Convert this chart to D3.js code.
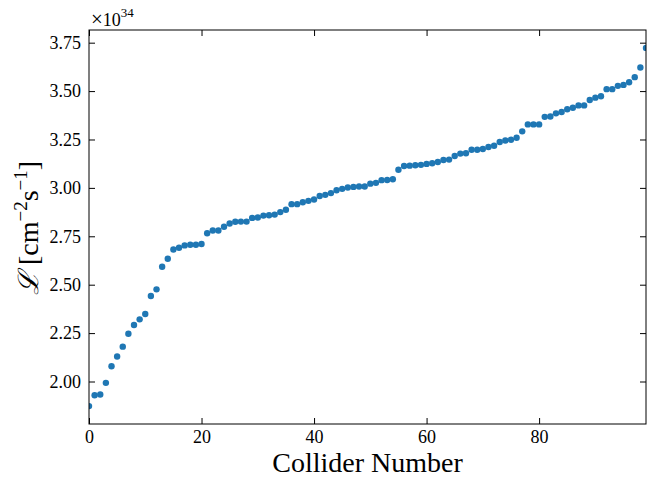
<!DOCTYPE html>
<html>
<head>
<meta charset="utf-8">
<script src="https://cdn.jsdelivr.net/npm/d3@7"></script>
<style>
  html, body { margin: 0; padding: 0; background: #fff; }
  svg { display: block; }
  text { font-family: "Liberation Serif", "DejaVu Serif", serif; fill: #000; }
</style>
</head>
<body>
<svg id="chart" width="647" height="477"></svg>
<script>
// Luminosity per collider (units of 1e34 cm^-2 s^-1), sorted ascending
const colliderIds = d3.range(0, 100);
const luminosity = [
  1.873, 1.929, 1.933, 1.993, 2.079, 2.129, 2.180, 2.247, 2.292, 2.321,
  2.349, 2.442, 2.476, 2.593, 2.634, 2.682, 2.691, 2.703, 2.706, 2.706,
  2.710, 2.766, 2.780, 2.780, 2.799, 2.816, 2.825, 2.826, 2.826, 2.845,
  2.847, 2.857, 2.859, 2.862, 2.875, 2.887, 2.916, 2.916, 2.926, 2.933,
  2.940, 2.958, 2.964, 2.973, 2.988, 2.995, 3.002, 3.005, 3.007, 3.007,
  3.022, 3.026, 3.040, 3.041, 3.045, 3.094, 3.113, 3.115, 3.117, 3.119,
  3.124, 3.127, 3.134, 3.144, 3.146, 3.165, 3.177, 3.179, 3.197, 3.197,
  3.201, 3.211, 3.218, 3.237, 3.245, 3.249, 3.259, 3.292, 3.328, 3.328,
  3.328, 3.367, 3.369, 3.385, 3.392, 3.406, 3.414, 3.426, 3.426, 3.454,
  3.466, 3.473, 3.510, 3.510, 3.527, 3.532, 3.546, 3.572, 3.622, 3.723
];
const xTicks = [0, 20, 40, 60, 80];
const yTicks = [2.00, 2.25, 2.50, 2.75, 3.00, 3.25, 3.50, 3.75];

const svg = d3.select("#chart");
const m = { left: 89, right: 646, top: 30, bottom: 424 };

// 5% padding around the data range, like an autoscaled axis
const yMin = d3.min(luminosity), yMax = d3.max(luminosity);
const pad = (yMax - yMin) * 0.05;
const x = d3.scaleLinear().domain([0, 99]).range([m.left, m.right]);
const y = d3.scaleLinear().domain([yMin - pad, yMax + pad]).range([m.bottom, m.top]);

svg.append("defs").append("clipPath").attr("id", "plotClip")
  .append("rect")
  .attr("x", m.left).attr("y", m.top)
  .attr("width", m.right - m.left).attr("height", m.bottom - m.top);

// Points
svg.append("g").attr("clip-path", "url(#plotClip)")
  .selectAll("circle").data(colliderIds).join("circle")
  .attr("cx", i => x(i))
  .attr("cy", i => y(luminosity[i]))
  .attr("r", 3.2)
  .attr("fill", "#1f77b4");

const tickLen = 6;
const fmtY = d3.format(".2f");

// Axes with inward ticks on all four sides
const bottomAxis = svg.append("g").attr("transform", `translate(0,${m.bottom})`)
  .call(d3.axisBottom(x).tickValues(xTicks).tickSize(-tickLen).tickPadding(6).tickFormat(d3.format("d")));
const topAxis = svg.append("g").attr("transform", `translate(0,${m.top})`)
  .call(d3.axisTop(x).tickValues(xTicks).tickSize(-tickLen).tickFormat(""));
const leftAxis = svg.append("g").attr("transform", `translate(${m.left},0)`)
  .call(d3.axisLeft(y).tickValues(yTicks).tickSize(-tickLen).tickPadding(8).tickFormat(fmtY));
const rightAxis = svg.append("g").attr("transform", `translate(${m.right},0)`)
  .call(d3.axisRight(y).tickValues(yTicks).tickSize(-tickLen).tickFormat(""));

[bottomAxis, topAxis, leftAxis, rightAxis].forEach(g => {
  g.select(".domain").remove();
  g.selectAll(".tick line").attr("stroke", "#000").attr("stroke-width", 1);
  g.selectAll(".tick text")
    .style("font-family", '"Liberation Serif", "DejaVu Serif", serif')
    .style("font-size", "18px").attr("fill", "#000");
});

// Frame
svg.append("rect")
  .attr("x", m.left).attr("y", m.top)
  .attr("width", m.right - m.left).attr("height", m.bottom - m.top)
  .attr("fill", "none").attr("stroke", "#000").attr("stroke-width", 1);

// Scale multiplier above the y axis
const off = svg.append("text").attr("x", 91).attr("y", 26).style("font-size", "18px");
off.append("tspan").style("font-size", "21px").text("×");
off.append("tspan").text("10");
off.append("tspan").attr("dy", -9).style("font-size", "13px").text("34");

// Axis titles
svg.append("text")
  .attr("x", (m.left + m.right) / 2).attr("y", 472)
  .attr("text-anchor", "middle").style("font-size", "28px")
  .text("Collider Number");

const yl = svg.append("text")
  .attr("transform", `translate(38,228) rotate(-90)`)
  .attr("text-anchor", "middle").style("font-size", "28px");
yl.append("tspan").style("font-family", '"DejaVu Serif", serif').style("font-style", "italic").text("ℒ");
yl.append("tspan").text(" [cm");
yl.append("tspan").attr("dy", -11).style("font-size", "19px").text("−2");
yl.append("tspan").attr("dy", 11).text("s");
yl.append("tspan").attr("dy", -11).style("font-size", "19px").text("−1");
yl.append("tspan").attr("dy", 11).text("]");
</script>
</body>
</html>
